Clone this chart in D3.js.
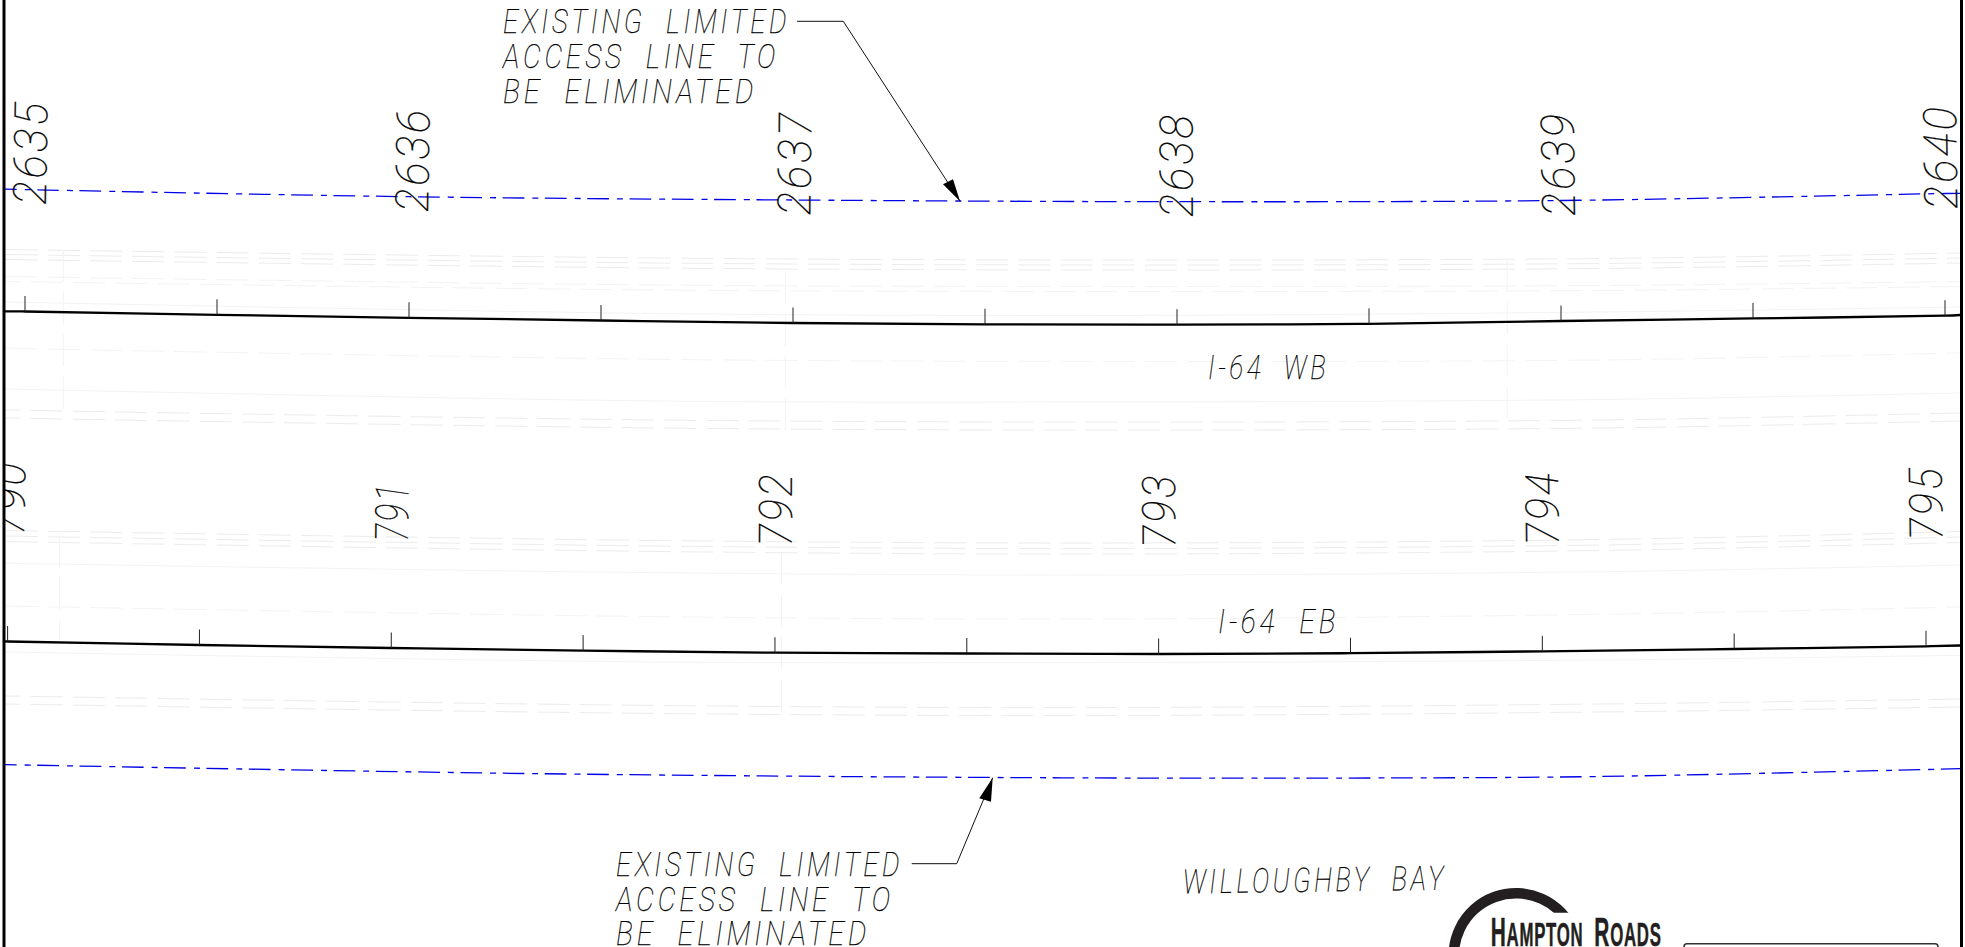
<!DOCTYPE html>
<html>
<head>
<meta charset="utf-8">
<script src="https://cdn.jsdelivr.net/npm/d3@7/dist/d3.min.js"></script>
<style>
html,body{margin:0;padding:0;background:#fff;overflow:hidden}
svg{display:block}
.cad{font-family:Roboto,"Open Sans",sans-serif;font-weight:100;font-style:italic;fill:#000;stroke:#000;stroke-width:.25}
</style>
</head>
<body>
<svg id="c" width="1965" height="947"></svg>
<script>
// ---- data ----
const wbStations = [2635,2636,2637,2638,2639,2640];
const ebStations = [790,791,792,793,794,795];
const wbTickStations = [2635,2635.5,2636,2636.5,2637,2637.5,2638,2638.5,2639,2639.5,2640];
const wbTickValues   = [311.5,314.8,317.8,320.5,323,324.3,324.7,323.8,321,318.4,315.7];
const ebTickStations = [790,790.5,791,791.5,792,792.5,793,793.5,794,794.5,795];
const ebTickValues   = [641.5,645,648,650.6,652.7,653.5,654,653.2,651.3,649,646.3];
const wbLimitStart = 2634.93, wbLimitEnd = 2640.04;
const wbLeftEnd = 311.2, wbRightEnd = 315;
const ebLeftEnd = 641.3, ebRightEnd = 645.5;
const wbAccessValues = [189.6,196.7,200,201.7,200.5,193.5];
const wbAccessEnds = [189,193.3];
const ebAccessStations = [2634.93,2636.3,2637.7,2638.5,2639.1,2640.04];
const ebAccessValues = [764.5,773.5,777.8,778,776.5,768.7];

const planStations = [2634.95,2636.65,2637.8,2639.1,2640.04];
const wbMedian  = [254.5,263,265,263.5,258];
const wbShoulder= [279,287.5,289,288,284];
const wbEdge    = [302,313.5,315.5,312,307];
const wbDashB   = [348.3,359.3,361.5,360,353];
const wbSolidB  = [389,401,402,399.5,393];
const wbDashC   = [414,424,426,424,417];
const ebMedian  = [536,546,548.5,545,537];
const ebSolidA  = [563.3,572.7,575,571.7,565];
const ebDashA   = [606,616.7,619,614.3,607];
const ebSolidB  = [652,662,662.5,660,655.3];
const ebDashB   = [700,709.5,711.5,708,703];

const crossStations = [2635.1,2635.09,2636.98,2636.97,2638.86];
const crossTops     = [250,536,272,553,260];
const crossBottoms  = [410,640,430,712,420];

const noteLines = ["EXISTING  LIMITED","ACCESS  LINE  TO","BE  ELIMINATED"];
const roadLabels = ["I-64  WB","I-64  EB"];
const bayLabel = "WILLOUGHBY  BAY";

// ---- scales ----
const svg = d3.select("#c");
const x  = d3.scaleLinear().domain([2635,2640]).range([25,1945]);
const xE = d3.scaleLinear().domain([790,795]).range([7.6,1926]);
const y  = d3.scaleLinear().domain([0,947]).range([0,947]);
const curve = d3.line().curve(d3.curveCatmullRom.alpha(0.5));

const defs = svg.append("defs");
defs.append("clipPath").attr("id","frameClip").append("rect")
  .attr("x",5).attr("y",0).attr("width",1955).attr("height",947);
const arcClip = defs.append("clipPath").attr("id","arcClip");
arcClip.append("rect").attr("x",1400).attr("y",870).attr("width",116).attr("height",77);
arcClip.append("rect").attr("x",1516).attr("y",870).attr("width",100).attr("height",42.7);

const plot = svg.append("g").attr("clip-path","url(#frameClip)");

// ---- faint background linework ----
function pts(vals, shift){ return planStations.map((s,i)=>[x(s), y(vals[i])+shift]); }
function faint(vals, opt){
  (opt.rails||[0]).forEach((r,i)=>{
    plot.append("path").attr("d",curve(pts(vals,r))).attr("fill","none")
      .attr("stroke",opt.color).attr("stroke-width",opt.w||1)
      .attr("stroke-dasharray",opt.dash||null)
      .attr("stroke-dashoffset",opt.offs?opt.offs[i]:0);
  });
}
const D = "32 10.2";
faint(wbMedian,  {rails:[-5,0,5],color:"#ececec",dash:D});
faint(wbShoulder,{rails:[-2.5,2.5],color:"#f3f3f3",dash:D,offs:[0,17]});
faint(wbEdge,    {color:"#f3f3f3"});
faint(wbDashB,   {color:"#f4f4f4",dash:D});
faint(wbSolidB,  {color:"#f3f3f3"});
faint(wbDashC,   {rails:[-4,4],color:"#ececec",dash:D,offs:[17,17]});
faint(ebMedian,  {rails:[-5.5,0,5.5],color:"#ececec",dash:D});
faint(ebSolidA,  {color:"#f3f3f3"});
faint(ebDashA,   {color:"#f4f4f4",dash:D});
faint(ebSolidB,  {color:"#f3f3f3"});
faint(ebDashB,   {rails:[-4,4],color:"#ececec",dash:D,offs:[17,17]});

plot.selectAll("line.cross").data(crossStations).join("line").attr("class","cross")
  .attr("x1",d=>x(d)).attr("x2",d=>x(d))
  .attr("y1",(d,i)=>y(crossTops[i])).attr("y2",(d,i)=>y(crossBottoms[i]))
  .attr("stroke","#f3f3f3").attr("stroke-dasharray",D);

// ---- limited access lines ----
const blue = {stroke:"#0000e6",w:1.3,dash:"21.7 8 6 6.6"};
const wbAccPts = [[x(wbLimitStart),y(wbAccessEnds[0])]]
  .concat(wbStations.map((s,i)=>[x(s),y(wbAccessValues[i])]))
  .concat([[x(wbLimitEnd),y(wbAccessEnds[1])]]);
const ebAccPts = ebAccessStations.map((s,i)=>[x(s),y(ebAccessValues[i])]);
[wbAccPts,ebAccPts].forEach(p=>{
  plot.append("path").attr("d",curve(p)).attr("fill","none")
    .attr("stroke",blue.stroke).attr("stroke-width",blue.w)
    .attr("stroke-dasharray",blue.dash).attr("stroke-dashoffset",3);
});

// ---- baselines ----
const wbMain = [[x(wbLimitStart),y(wbLeftEnd)]]
  .concat(wbTickStations.map((s,i)=>[x(s),y(wbTickValues[i])]))
  .concat([[x(wbLimitEnd),y(wbRightEnd)]]);
const ebMain = [[xE(789.97),y(ebLeftEnd)]]
  .concat(ebTickStations.map((s,i)=>[xE(s),y(ebTickValues[i])]))
  .concat([[xE(795.09),y(ebRightEnd)]]);
[wbMain,ebMain].forEach(p=>{
  plot.append("path").attr("d",curve(p)).attr("fill","none").attr("stroke","#000").attr("stroke-width",2.3);
});
plot.selectAll("line.wbt").data(wbTickStations).join("line").attr("class","wbt")
  .attr("x1",d=>x(d)).attr("x2",d=>x(d))
  .attr("y1",(d,i)=>y(wbTickValues[i])).attr("y2",(d,i)=>y(wbTickValues[i])-15.5)
  .attr("stroke","#222").attr("stroke-width",1);
plot.selectAll("line.ebt").data(ebTickStations).join("line").attr("class","ebt")
  .attr("x1",d=>xE(d)).attr("x2",d=>xE(d))
  .attr("y1",(d,i)=>y(ebTickValues[i])).attr("y2",(d,i)=>y(ebTickValues[i])-15.5)
  .attr("stroke","#222").attr("stroke-width",1);

// ---- station labels ----
function tilt(st, vals, sc, s){
  const i = st.indexOf(s), a = Math.max(0,i-1), b = Math.min(st.length-1,i+1);
  return Math.atan2(vals[b]-vals[a], sc(st[b])-sc(st[a]))*180/Math.PI;
}
function stationLabel(txt, px, py, ang, len){
  plot.append("text").attr("class","cad")
    .attr("transform",`translate(${px},${py}) rotate(${-90+ang})`)
    .attr("font-size",46).attr("letter-spacing",3).attr("textLength",len).attr("lengthAdjust","spacingAndGlyphs")
    .text(txt);
}
wbStations.forEach((s,i)=>{
  stationLabel(String(s), x(s)+16.5+1.7*(2637.5-s), y(wbAccessValues[i])+15.5,
    tilt(wbTickStations,wbTickValues,x,s), 105);
});
ebStations.forEach(s=>{
  const v = ebTickValues[ebTickStations.indexOf(s)];
  stationLabel(String(s), xE(s)+16.5, y(v)-106, tilt(ebTickStations,ebTickValues,xE,s), s===791?60:75);
});

// ---- notes ----
function note(txt, px, py, len, size){
  return svg.append("text").attr("class","cad").attr("x",px).attr("y",py)
    .attr("font-size",size||33.8).attr("letter-spacing",4.5).attr("textLength",len).attr("lengthAdjust","spacingAndGlyphs")
    .style("white-space","pre").text(txt);
}
[[287,33.3],[276,68],[254,102.7]].forEach((d,i)=>note(noteLines[i],503,d[1],d[0]));
[[287,875.7],[278,910.7],[254,945]].forEach((d,i)=>note(noteLines[i],616,d[1],d[0]));
note(roadLabels[0],1208,379,121);
note(roadLabels[1],1218,633,121);
note(bayLabel,1183,893.5,264).attr("transform","rotate(-0.8 1183 893.5)");

// ---- leaders ----
function leader(p0,p1,tip,b1,b2){
  svg.append("path").attr("d",d3.line()([p0,p1,tip])).attr("fill","none").attr("stroke","#111").attr("stroke-width",1);
  svg.append("path").attr("d",d3.line()([tip,b1,b2])+"Z").attr("fill","#000");
}
leader([797,21.3],[843.3,21.3],[x(2637.435),y(201.3)],[943,184.3],[953,179.3]);
leader([911.7,863.7],[956.7,863.7],[x(2637.52),y(777.7)],[979.3,798.3],[991,801.7]);

// ---- frame ----
[4,1961.5].forEach(fx=>{
  svg.append("line").attr("x1",fx).attr("x2",fx).attr("y1",0).attr("y2",947)
    .attr("stroke","#000").attr("stroke-width",3);
});

// ---- logo ----
svg.append("g").attr("clip-path","url(#arcClip)").append("path")
  .attr("transform","translate(1516,955.5)")
  .attr("d",d3.arc()({innerRadius:57,outerRadius:67.5,startAngle:-1.9,endAngle:1.2}))
  .attr("fill","#231f20");
const logo = svg.append("text").attr("x",1490.7).attr("y",945.5)
  .attr("font-family","'Liberation Sans Narrow','Liberation Sans',sans-serif")
  .attr("font-weight",700).attr("fill","#231f20").attr("stroke","#231f20").attr("stroke-width",.5)
  .attr("font-size",41).attr("letter-spacing",1.5)
  .attr("textLength",171).attr("lengthAdjust","spacingAndGlyphs");
[["H",41],["AMPTON",33],["  ",33],["R",41],["OADS",33]].forEach(d=>{
  logo.append("tspan").attr("font-size",d[1]).style("white-space","pre").text(d[0]);
});

// title-block corner
svg.append("rect").attr("x",1684).attr("y",943.7).attr("width",254).attr("height",30).attr("rx",3)
  .attr("fill","#fff").attr("stroke","#333").attr("stroke-width",1.5);
</script>
</body>
</html>
